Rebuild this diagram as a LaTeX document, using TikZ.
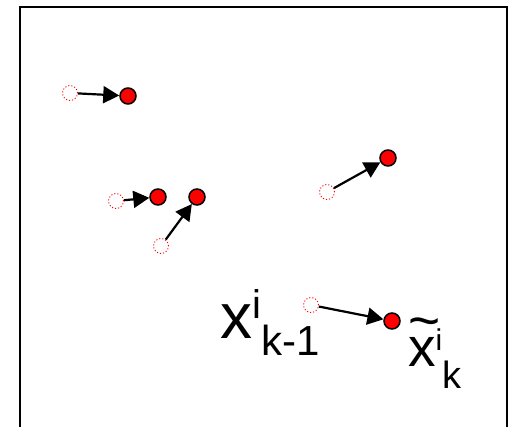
\documentclass[tikz,border=0pt]{standalone}
\usepackage{fontspec}
\setmainfont{Liberation Sans}
\usetikzlibrary{arrows.meta}

\begin{document}
\begin{tikzpicture}[
  x=1pt, y=-1pt,
  oldpt/.style={
    circle, draw=red, line width=0.9pt,
    dash pattern=on 1.1pt off 2pt,
    minimum size=15pt, inner sep=0pt},
  newpt/.style={
    circle, draw=black, fill=red, line width=1.5pt,
    minimum size=16pt, inner sep=0pt},
  move/.style={-{Triangle[length=16pt,width=17pt]}, line width=2.2pt},
  frame/.style={line width=2.6pt, draw=black},
  lbl/.style={anchor=base west, inner sep=0pt},
]
\useasboundingbox (0,0) rectangle (510,427);

%% ---- Frame (open at the bottom) ----
\draw[frame] (20,427) -- (20,7) -- (507,7) -- (507,427);

%% ---- Previous particles ----
\node[oldpt] (old1) at (70,93) {};
\node[oldpt] (old2) at (116,201) {};
\node[oldpt] (old3) at (161,246) {};
\node[oldpt] (old4) at (327,192) {};
\node[oldpt] (old5) at (311,305) {};

%% ---- Predicted particles ----
\node[newpt] (new1) at (128,96) {};
\node[newpt] (new2) at (158,197) {};
\node[newpt] (new3) at (197,197) {};
\node[newpt] (new4) at (388,158) {};
\node[newpt] (new5) at (392,321) {};

%% ---- Motion arrows ----
\foreach \i in {1,...,5}
  \draw[move] (old\i) -- (new\i);

%% ---- Labels ----
\node[lbl] (prevlbl) at (220,338) {%
  {\fontsize{64}{64}\selectfont x}%
  \raisebox{20pt}{\fontsize{40}{40}\selectfont i}%
  \raisebox{-17pt}{\fontsize{42}{42}\selectfont k-1}};

\node[lbl] (predlbl) at (408,366) {%
  {\fontsize{55}{55}\selectfont
   \makebox[0pt][l]{\raisebox{27pt}{\textasciitilde}}x}%
  \raisebox{16pt}{\fontsize{30}{30}\selectfont i}%
  \raisebox{-22pt}{\fontsize{38}{38}\selectfont k}};

\end{tikzpicture}
\end{document}
